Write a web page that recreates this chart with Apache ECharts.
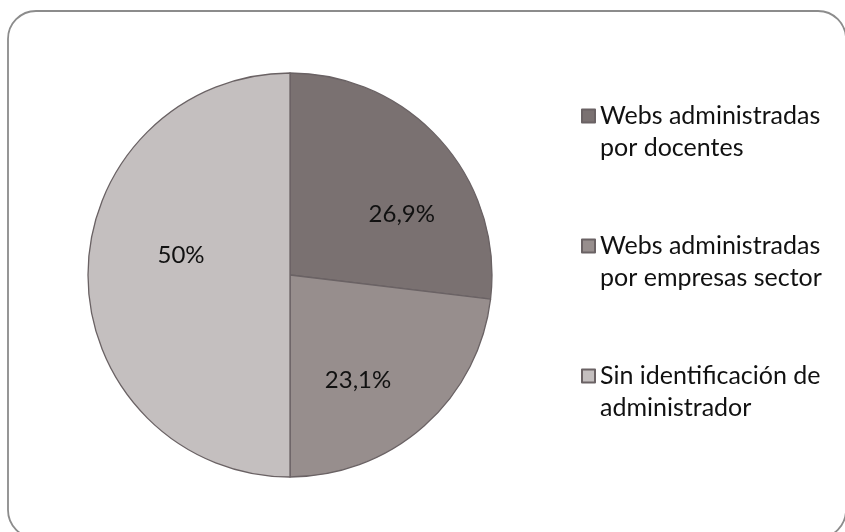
<!DOCTYPE html>
<html>
<head>
<meta charset="utf-8">
<script src="https://cdn.jsdelivr.net/npm/echarts@6/dist/echarts.min.js"></script>
<style>
  html, body { margin: 0; padding: 0; background: #ffffff; }
  #chart { width: 845px; height: 532px; }
</style>
</head>
<body>
<div id="chart"></div>
<script>
// Categories and shares (%)
const categories = [
  'Webs administradas por docentes',
  'Webs administradas por empresas sector',
  'Sin identificación de administrador'
];
const shares = [26.9, 23.1, 50];
// Legend text, wrapped on two lines
const legendLines = [
  ['Webs administradas', 'por docentes'],
  ['Webs administradas', 'por empresas sector'],
  ['Sin identificación de', 'administrador']
];
const sliceColors = ['#7a7171', '#978e8d', '#c4bfbf'];

// Nudges for the slice labels (best-fit placement)
const labelNudge = [[34, 8], [-1, 27], [-5, -20]];

const chart = echarts.init(document.getElementById('chart'), null, { renderer: 'canvas' });
const FONT = 'Lato';

chart.setOption({
  animation: false,
  backgroundColor: '#ffffff',
  graphic: [{
    type: 'rect',
    shape: { x: 8, y: 11, width: 838, height: 527, r: 28 },
    style: { fill: 'none', stroke: '#8c8c8c', lineWidth: 1.8 },
    silent: true,
    z: -1
  }],
  legend: {
    orient: 'vertical',
    left: 576,
    top: 63,
    itemWidth: 13,
    itemHeight: 13,
    itemGap: 34,
    icon: 'rect',
    // a blank leading line keeps the marker level with the first text line
    formatter: function (name) {
      return '\n' + legendLines[categories.indexOf(name)].join('\n');
    },
    textStyle: {
      fontFamily: FONT,
      fontSize: 25,
      lineHeight: 32,
      color: '#111111'
    },
    data: categories
  },
  series: [{
    type: 'pie',
    center: [290, 275],
    radius: 202,
    startAngle: 90,
    clockwise: true,
    avoidLabelOverlap: false,
    itemStyle: { borderColor: '#6a6264', borderWidth: 1.3 },
    label: {
      show: true,
      position: 'inside',
      fontFamily: FONT,
      fontSize: 24,
      color: '#111111',
      formatter: function (p) {
        return String(p.value).replace('.', ',') + '%';
      }
    },
    labelLayout: function (p) {
      const n = labelNudge[p.dataIndex];
      return { dx: n[0], dy: n[1] };
    },
    emphasis: { disabled: true },
    data: categories.map(function (c, i) {
      return { name: c, value: shares[i], itemStyle: { color: sliceColors[i] } };
    })
  }]
});
</script>
</body>
</html>
